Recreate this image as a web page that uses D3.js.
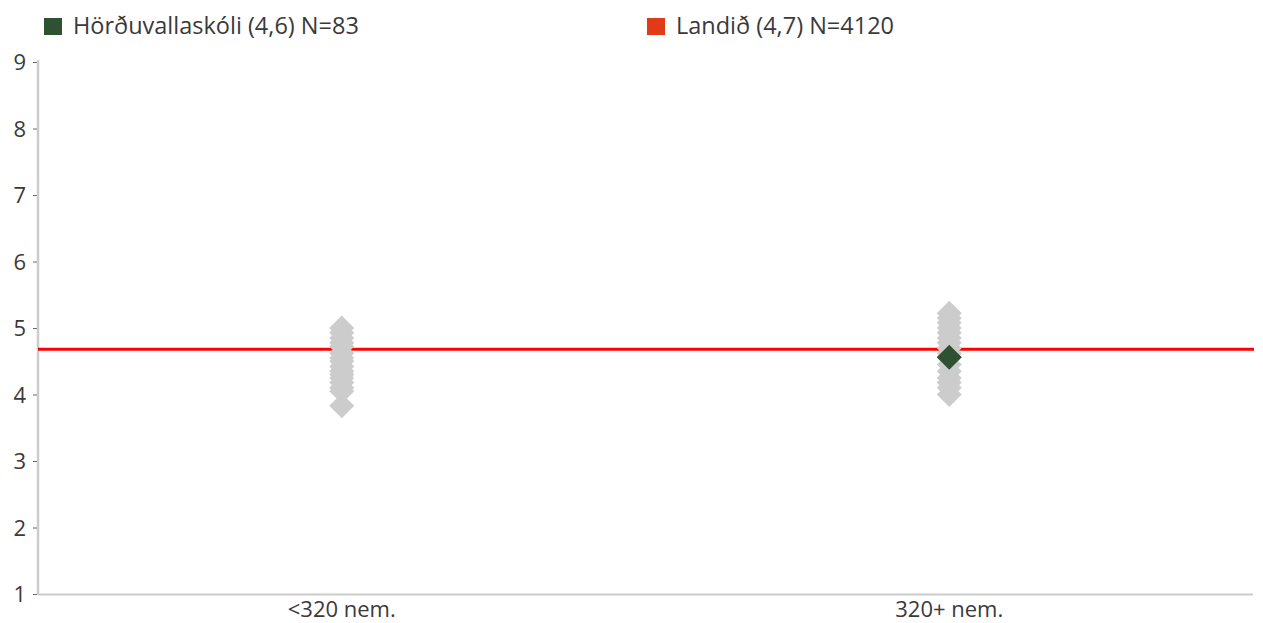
<!DOCTYPE html>
<html><head><meta charset="utf-8">
<script src="https://cdn.jsdelivr.net/npm/d3@7"></script>
<style>body{margin:0;background:#fff}svg{display:block}text{font-family:"Open Sans","Noto Sans",sans-serif}</style>
</head><body><svg id="c" width="1263" height="623"></svg>
<script>
const categories = ["<320 nem.", "320+ nem."];
const otherSchools = [
  [5.0, 4.93, 4.85, 4.78, 4.72, 4.62, 4.55, 4.5, 4.42, 4.35, 4.3, 4.25, 4.18, 4.1, 4.05, 3.83],
  [5.22, 5.15, 5.08, 5.0, 4.93, 4.85, 4.78, 4.7, 4.62, 4.56, 4.45, 4.35, 4.25, 4.18, 4.1, 4.0]
];
const schoolName = "Hörðuvallaskóli (4,6) N=83";
const schoolCategory = "320+ nem.";
const schoolValue = 4.56;
const nationalName = "Landið (4,7) N=4120";
const nationalValue = 4.68;
const yTicks = [1, 2, 3, 4, 5, 6, 7, 8, 9];

const svg = d3.select("#c");
const m = {l: 38, r: 10, t: 62, b: 29};
const W = 1263, H = 623;
const x = d3.scaleBand().domain(categories).range([m.l, W - m.r]);
const y = d3.scaleLinear().domain([1, 9]).range([H - m.b, m.t]);

// axes
const ya = svg.append("g").attr("transform", `translate(${m.l},0)`)
  .call(d3.axisLeft(y).tickValues(yTicks).tickSize(4).tickPadding(8).tickFormat(d3.format("d")));
ya.select(".domain").remove();
ya.selectAll(".tick line").attr("stroke", "#666").attr("transform", "translate(-1,0)");
ya.selectAll(".tick text").attr("font-size", 22).attr("fill", "#3a3a3a").attr("dy", "0.36em");
svg.append("line").attr("x1", m.l).attr("x2", m.l).attr("y1", y(9) - 2).attr("y2", y(1) + 1)
  .attr("stroke", "#cccccc").attr("stroke-width", 2.5);

const xa = svg.append("g").attr("transform", `translate(0,${y(1)})`)
  .call(d3.axisBottom(x).tickSize(0).tickPadding(7));
xa.select(".domain").remove();
xa.selectAll(".tick text").attr("font-size", 22).attr("fill", "#3a3a3a");
svg.append("line").attr("x1", m.l).attr("x2", W - m.r).attr("y1", y(1) + 0.5).attr("y2", y(1) + 0.5)
  .attr("stroke", "#cccccc").attr("stroke-width", 2);

const r = 12.5;
const diamond = `M0,${-r}L${r},0L0,${r}L${-r},0Z`;

// national line
svg.append("line").attr("x1", m.l).attr("x2", W - m.r + 1)
  .attr("y1", y(nationalValue)).attr("y2", y(nationalValue))
  .attr("stroke", "#ff0000").attr("stroke-width", 3);

// other schools
categories.forEach((c, i) => {
  svg.append("g").selectAll("path").data(otherSchools[i]).join("path")
    .attr("d", diamond)
    .attr("transform", d => `translate(${x(c) + x.bandwidth() / 2},${y(d)})`)
    .attr("fill", "#cccccc");
});
svg.append("path").attr("d", diamond)
  .attr("transform", `translate(${x(schoolCategory) + x.bandwidth() / 2},${y(schoolValue)})`)
  .attr("fill", "#2e5131");

// legend
const legend = [
  {name: schoolName, color: "#2e5131", x: 44},
  {name: nationalName, color: "#e03a17", x: 647}
];
const lg = svg.append("g").selectAll("g").data(legend).join("g")
  .attr("transform", d => `translate(${d.x},18)`);
lg.append("rect").attr("width", 18).attr("height", 17).attr("fill", d => d.color);
lg.append("text").attr("x", 29).attr("y", 15.5).attr("font-size", 23.5).attr("fill", "#3a3a3a").text(d => d.name);
</script></body></html>
